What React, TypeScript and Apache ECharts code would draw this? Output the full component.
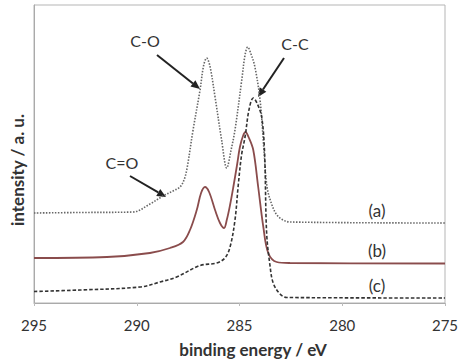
import React, { useEffect, useRef } from "react";
import * as echarts from "echarts";

// Binding energy (eV) and intensity (a.u.)
const energyA = [295, 292.76, 290.18, 289.36, 288.72, 288.24, 287.9, 287.7, 287.55, 287.26, 286.92, 286.75, 286.6, 286.44, 286.19, 285.87, 285.62, 285.41, 285.22, 284.89, 284.73, 284.6, 284.44, 284.25, 284.0, 283.81, 283.66, 283.42, 283.18, 282.88, 282.54, 275];
const intensityA = [90, 90.5, 91, 99, 107, 112, 116, 123, 135, 173, 213, 237, 245, 237, 206, 163, 135, 153, 173, 223, 248, 256, 249, 236, 203, 153, 116, 98, 88, 83, 81, 80];

const energyB = [295, 291.45, 289.36, 288.38, 287.75, 287.41, 287.08, 286.87, 286.68, 286.48, 286.19, 285.95, 285.75, 285.62, 285.46, 285.3, 285.12, 284.98, 284.83, 284.71, 284.56, 284.33, 284.09, 283.84, 283.6, 283.19, 282.54, 275];
const intensityB = [45, 46, 50, 55, 61, 73, 93, 110, 116, 111, 93, 80, 75, 83, 98, 116, 138, 156, 167, 171, 166, 153, 116, 76, 50, 41, 40, 39.5];

const energyC = [295, 292.76, 289.84, 288.87, 288.06, 286.92, 286.11, 285.71, 285.46, 285.22, 285.06, 284.9, 284.73, 284.54, 284.33, 284.15, 283.92, 283.78, 283.68, 283.52, 283.36, 283.03, 282.7, 275];
const intensityC = [11.5, 13, 16, 21, 26, 37.5, 40, 45, 56, 83, 118, 148, 166, 193, 205, 200, 186, 150, 70, 38, 20, 9, 5.5, 5];

const xTicks = [295, 290, 285, 280, 275];
const seriesNames = ["(a)", "(b)", "(c)"];
const xTitle = "binding energy / eV";
const yTitle = "intensity / a. u.";

const FONT = "Lato, 'Open Sans', sans-serif";

function arrow(x1: number, y1: number, x2: number, y2: number) {
  const dx = x2 - x1;
  const dy = y2 - y1;
  const len = Math.sqrt(dx * dx + dy * dy);
  const ux = dx / len;
  const uy = dy / len;
  const hl = 9;
  const hw = 4;
  const bx = x2 - ux * hl;
  const by = y2 - uy * hl;
  return [
    {
      type: "line",
      shape: { x1, y1, x2: bx, y2: by },
      style: { stroke: "#222", lineWidth: 2 },
    },
    {
      type: "polygon",
      shape: {
        points: [
          [x2, y2],
          [bx - uy * hw, by + ux * hw],
          [bx + uy * hw, by - ux * hw],
        ],
      },
      style: { fill: "#222" },
    },
  ];
}

const txt = (text: string, x: number, y: number, size = 16, extra: any = {}) => ({
  type: "text",
  x,
  y,
  ...extra,
  style: {
    text,
    font: `${extra.bold ? "bold " : ""}${size}px ${FONT}`,
    fill: "#333",
    align: "center",
    verticalAlign: "middle",
  },
});

export default function App() {
  const ref = useRef<HTMLDivElement>(null);
  useEffect(() => {
    document.body.style.margin = "0";
    if (!ref.current) return;
    const chart = echarts.init(ref.current, null, { renderer: "svg" });
    const toPairs = (xs: number[], ys: number[]) => xs.map((x, i) => [x, ys[i]]);
    chart.setOption({
      animation: false,
      backgroundColor: "#fff",
      grid: {
        left: 34,
        right: 17,
        top: 5,
        bottom: 57,
        show: true,
        borderColor: "#b5b5b5",
        borderWidth: 1,
      },
      xAxis: {
        type: "value",
        min: 275,
        max: 295,
        interval: 5,
        inverse: true,
        axisLine: { lineStyle: { color: "#aaa" } },
        axisTick: { show: true, length: 3, lineStyle: { color: "#bbb" } },
        splitLine: { show: false },
        axisLabel: {
          fontFamily: FONT,
          fontSize: 15,
          color: "#333",
          margin: 14,
          formatter: (v: number) => (xTicks.includes(v) ? String(v) : ""),
        },
      },
      yAxis: {
        type: "value",
        min: 0,
        max: 298,
        axisLine: { show: true, lineStyle: { color: "#aaa" } },
        axisTick: { show: false },
        axisLabel: { show: false },
        splitLine: { show: false },
      },
      series: [
        {
          name: seriesNames[0],
          type: "line",
          data: toPairs(energyA, intensityA),
          smooth: 0.35,
          showSymbol: false,
          lineStyle: { color: "#666", width: 1.6, type: [1.5, 1.5] },
        },
        {
          name: seriesNames[1],
          type: "line",
          data: toPairs(energyB, intensityB),
          smooth: 0.35,
          showSymbol: false,
          lineStyle: { color: "#8a4c4c", width: 1.8 },
        },
        {
          name: seriesNames[2],
          type: "line",
          data: toPairs(energyC, intensityC),
          smooth: 0.35,
          showSymbol: false,
          lineStyle: { color: "#333", width: 1.6, type: [3.5, 2] },
        },
      ],
      graphic: [
        txt("C-O", 145, 40, 16),
        txt("C-C", 295, 43, 16),
        txt("C=O", 122, 162, 16),
        ...arrow(157, 55, 200, 89),
        ...arrow(284, 58, 258, 97),
        ...arrow(130, 176, 166, 197),
        txt(seriesNames[0], 377, 210, 17),
        txt(seriesNames[1], 377, 250, 17),
        txt(seriesNames[2], 377, 285, 17),
        txt(xTitle, 253, 349, 17, { bold: true }),
        txt(yTitle, 17, 170, 17, { bold: true, rotation: Math.PI / 2 }),
      ],
    });
    return () => chart.dispose();
  }, []);
  return <div ref={ref} style={{ width: 462, height: 360 }} />;
}
